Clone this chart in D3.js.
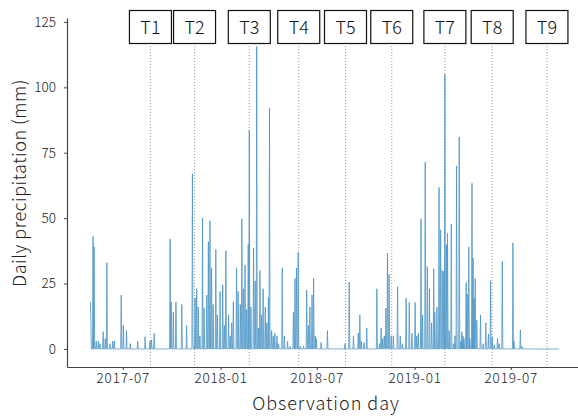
<!DOCTYPE html>
<html>
<head>
<meta charset="utf-8">
<script src="https://cdn.jsdelivr.net/npm/d3@7"></script>
<style>
  body { margin: 0; background: #fff; }
  svg { display: block; font-family: "Noto Sans CJK JP", "Noto Sans", sans-serif; font-weight: 300; }
</style>
</head>
<body>
<svg id="chart" width="578" height="416"></svg>
<script>
// observation window (daily series, dry days = 0)
var firstDay = "2017-05-01";
var lastDay = "2019-09-30";

// rainy days: [date, mm]
var rainDates = [
  "2017-05-01","2017-05-02","2017-05-06","2017-05-08","2017-05-12","2017-05-16","2017-05-19","2017-05-25","2017-05-29",
  "2017-06-01","2017-06-07","2017-06-12","2017-06-15","2017-06-28","2017-07-02","2017-07-08","2017-07-15","2017-07-29",
  "2017-08-12","2017-08-21","2017-08-24","2017-08-29",
  "2017-09-28","2017-09-30","2017-10-04","2017-10-09","2017-10-20","2017-10-29","2017-11-09","2017-11-10","2017-11-14",
  "2017-11-17","2017-11-20","2017-11-23","2017-11-28","2017-12-01","2017-12-06","2017-12-09","2017-12-12","2017-12-15",
  "2017-12-18","2017-12-23","2017-12-26","2017-12-31",
  "2018-01-05","2018-01-08","2018-01-11","2018-01-16","2018-01-19","2018-01-22","2018-01-25","2018-01-31","2018-02-03",
  "2018-02-07","2018-02-10","2018-02-13","2018-02-16","2018-02-19","2018-02-22","2018-02-24","2018-02-27","2018-03-04",
  "2018-03-07","2018-03-10","2018-03-13","2018-03-16","2018-03-19","2018-03-22","2018-03-26","2018-03-29","2018-04-01",
  "2018-04-03","2018-04-07","2018-04-10","2018-04-13","2018-04-17","2018-04-20","2018-04-27","2018-05-01","2018-05-07",
  "2018-05-12","2018-05-18","2018-05-21","2018-05-24","2018-05-27","2018-05-31","2018-06-06","2018-06-12","2018-06-15",
  "2018-06-18","2018-06-22","2018-06-25","2018-06-28","2018-06-30","2018-07-09","2018-07-21",
  "2018-08-23","2018-08-31","2018-09-08","2018-09-17","2018-09-20","2018-09-23","2018-09-28","2018-10-03","2018-10-22",
  "2018-10-27","2018-10-30","2018-11-02","2018-11-05","2018-11-08","2018-11-11","2018-11-14","2018-11-18","2018-11-22",
  "2018-11-30","2018-12-05","2018-12-09","2018-12-16","2018-12-22","2018-12-27",
  "2019-01-02","2019-01-05","2019-01-08","2019-01-13","2019-01-16","2019-01-21","2019-01-25","2019-01-29","2019-02-02",
  "2019-02-06","2019-02-08","2019-02-12","2019-02-16","2019-02-19","2019-02-22","2019-02-25","2019-02-27","2019-03-02",
  "2019-03-04","2019-03-07","2019-03-11","2019-03-15","2019-03-18","2019-03-21","2019-03-26","2019-03-29","2019-03-31",
  "2019-04-02","2019-04-04","2019-04-08","2019-04-10","2019-04-13","2019-04-15","2019-04-19","2019-04-21","2019-04-23",
  "2019-04-25","2019-04-28","2019-05-05","2019-05-10","2019-05-15","2019-05-20","2019-05-24","2019-05-27","2019-05-31",
  "2019-06-06","2019-06-09","2019-06-15","2019-07-05","2019-07-07","2019-07-19","2019-07-22"
];
var rainMm = [
  18, 10, 43, 39, 3, 3, 2, 6.6, 4,
  33, 2, 3, 3, 20.6, 9, 7, 2, 3,
  4.7, 3, 3.5, 6,
  42, 18, 14, 18, 17, 9, 67, 2, 19.5,
  23, 16, 5, 50, 15.7, 20.6, 41, 49, 31,
  17, 38, 13, 22,
  24.5, 9, 37.5, 13, 5, 10, 18, 31, 22,
  17, 49.7, 23, 32, 15, 40, 83.7, 16, 38.6,
  26, 115.6, 8, 30, 13, 23, 16, 10, 19.5,
  92, 7, 5, 6, 5, 2, 31, 5, 3,
  1, 14, 27, 31, 37, 1, 1, 22.5, 9,
  16, 20.6, 27, 5, 4, 2.5, 7,
  2, 25.5, 5, 6, 13, 3, 2.5, 8, 23,
  2, 8, 4, 5, 15.6, 36.6, 28.5, 5, 5,
  23.8, 5, 2, 19.4, 17.8, 6,
  17.8, 5, 6, 49.7, 13, 71.4, 31.5, 23, 10,
  30.6, 14, 16, 61.7, 45.5, 30, 29.6, 105, 39.8,
  44.2, 7, 47.7, 2, 5, 70, 81, 3, 6.6,
  5, 4, 25.4, 21, 39, 4, 63.3, 34.7, 19.4,
  27, 11, 13, 2, 10, 5.7, 26, 4.6, 1.5,
  4, 2, 33.4, 40.6, 3, 7.3, 1
];

// survey terms
var termLabels = ["T1","T2","T3","T4","T5","T6","T7","T8","T9"];
var termDates = ["2017-08-22","2017-11-13","2018-02-24","2018-05-28","2018-08-24","2018-11-19","2019-02-27","2019-05-27","2019-09-07"];

var xTicks = ["2017-07-01","2018-01-01","2018-07-01","2019-01-01","2019-07-01"];
var yTicks = [0, 25, 50, 75, 100, 125];

var parse = d3.utcParse("%Y-%m-%d");
var rainMap = new Map(rainDates.map(function(d, i) { return [d, rainMm[i]]; }));
var fmtKey = d3.utcFormat("%Y-%m-%d");
var days = d3.utcDay.range(parse(firstDay), d3.utcDay.offset(parse(lastDay), 1));
var series = days.map(function(d) { return {date: d, v: rainMap.get(fmtKey(d)) || 0}; });

var svg = d3.select("#chart");
svg.append("rect").attr("width", 578).attr("height", 416).attr("fill", "#fff");

var x = d3.scaleUtc().domain([parse("2017-03-18"), parse("2019-11-05")]).range([67, 578.3]);
var y = d3.scaleLinear().domain([-6.9, 126.5]).range([367, 18]);

// term marker lines
svg.append("g").selectAll("line").data(termDates).enter().append("line")
  .attr("x1", function(d) { return x(parse(d)); })
  .attr("x2", function(d) { return x(parse(d)); })
  .attr("y1", 46).attr("y2", 366)
  .attr("stroke", "#999").attr("stroke-width", 1).attr("stroke-dasharray", "1,2");

// precipitation line
var line = d3.line().x(function(d) { return x(d.date); }).y(function(d) { return y(d.v); });
svg.append("path").datum(series)
  .attr("d", line)
  .attr("fill", "none")
  .attr("stroke", "#4a93c6")
  .attr("stroke-opacity", 0.8)
  .attr("stroke-width", 1);

// axes
var xAxis = svg.append("g").attr("transform", "translate(0,367)")
  .call(d3.axisBottom(x).tickValues(xTicks.map(parse)).tickFormat(d3.utcFormat("%Y-%m")).tickSize(3).tickSizeOuter(0));
var yAxis = svg.append("g").attr("transform", "translate(67,0)")
  .call(d3.axisLeft(y).tickValues(yTicks).tickSize(3).tickSizeOuter(0));
[xAxis, yAxis].forEach(function(g) {
  g.select(".domain").attr("stroke", "#444").attr("stroke-width", 1.2);
  g.selectAll(".tick line").attr("stroke", "#444");
  g.selectAll(".tick text").attr("fill", "#222").style("font-size", "13.5px")
    .style("font-family", "'Noto Sans CJK JP', sans-serif").style("font-weight", 300);
});
xAxis.selectAll(".tick text").attr("y", 5).attr("dy", "0.85em").style("letter-spacing", "0.8px");
yAxis.selectAll(".tick text").attr("x", -11);

// term boxes
var boxes = svg.append("g").selectAll("g").data(termLabels).enter().append("g")
  .attr("transform", function(d, i) { return "translate(" + x(parse(termDates[i])) + ",0)"; });
boxes.append("rect")
  .attr("x", -21).attr("y", 10.5).attr("width", 42).attr("height", 33)
  .attr("fill", "#fff").attr("stroke", "#111").attr("stroke-width", 1.2);
boxes.append("text")
  .attr("y", 33.5).attr("text-anchor", "middle")
  .style("font-size", "18px").attr("fill", "#111")
  .text(function(d) { return d; });

// axis titles
svg.append("text")
  .attr("x", 326).attr("y", 410).attr("text-anchor", "middle")
  .style("font-size", "18px").style("letter-spacing", "1px").attr("fill", "#222")
  .text("Observation day");
svg.append("text")
  .attr("transform", "translate(26,183) rotate(-90)")
  .attr("text-anchor", "middle")
  .style("font-size", "18px").style("letter-spacing", "0.5px").attr("fill", "#222")
  .text("Daily precipitation (mm)");
</script>
</body>
</html>
